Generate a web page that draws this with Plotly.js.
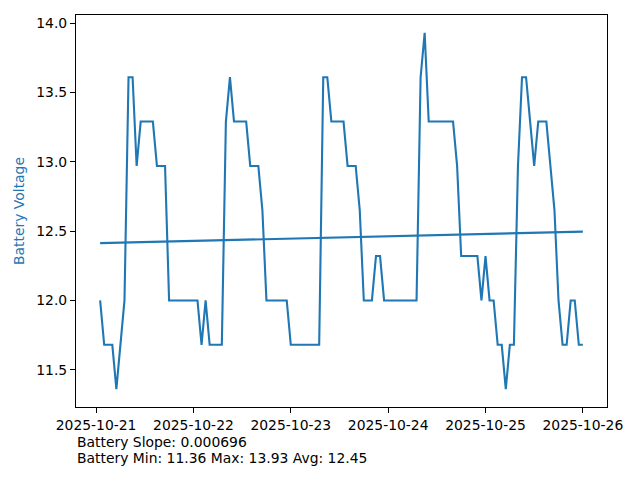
<!DOCTYPE html>
<html>
<head>
<meta charset="utf-8">
<script src="https://cdn.plot.ly/plotly-3.0.1.min.js"></script>
<style>html,body{margin:0;padding:0;background:#fff}</style>
</head>
<body>
<div id="chart" style="width:640px;height:480px"></div>
<script>
// Hourly samples starting 2025-10-21 01:00
const startTime = "2025-10-21T01:00:00";
const stepHours = 1;
const voltage = [
  12.00, 11.68, 11.68, 11.68, 11.36, 11.68, 12.00, 13.61, 13.61, 12.97,
  13.29, 13.29, 13.29, 13.29, 12.97, 12.97, 12.97, 12.00, 12.00, 12.00,
  12.00, 12.00, 12.00, 12.00, 12.00, 11.68, 12.00, 11.68, 11.68, 11.68,
  11.68, 13.29, 13.61, 13.29, 13.29, 13.29, 13.29, 12.97, 12.97, 12.97,
  12.65, 12.00, 12.00, 12.00, 12.00, 12.00, 12.00, 11.68, 11.68, 11.68,
  11.68, 11.68, 11.68, 11.68, 11.68, 13.61, 13.61, 13.29, 13.29, 13.29,
  13.29, 12.97, 12.97, 12.97, 12.65, 12.00, 12.00, 12.00, 12.32, 12.32,
  12.00, 12.00, 12.00, 12.00, 12.00, 12.00, 12.00, 12.00, 12.00, 13.61,
  13.93, 13.29, 13.29, 13.29, 13.29, 13.29, 13.29, 13.29, 12.97, 12.32,
  12.32, 12.32, 12.32, 12.32, 12.00, 12.32, 12.00, 12.00, 11.68, 11.68,
  11.36, 11.68, 11.68, 12.97, 13.61, 13.61, 13.29, 12.97, 13.29, 13.29,
  13.29, 12.97, 12.65, 12.00, 11.68, 11.68, 12.00, 12.00, 11.68, 11.68
];
const xTickVals = ["2025-10-21", "2025-10-22", "2025-10-23", "2025-10-24", "2025-10-25", "2025-10-26"];
const statLines = [
  "Battery Slope: 0.000696",
  "Battery Min: 11.36 Max: 13.93 Avg: 12.45"
];

function fmt(d){
  const p = n => String(n).padStart(2,"0");
  return d.getUTCFullYear()+"-"+p(d.getUTCMonth()+1)+"-"+p(d.getUTCDate())+" "+p(d.getUTCHours())+":"+p(d.getUTCMinutes())+":"+p(d.getUTCSeconds());
}
const t0 = new Date(startTime + "Z").getTime();
const times = voltage.map((_, i) => fmt(new Date(t0 + i*stepHours*3600000)));

// least-squares trend over sample index
const n = voltage.length;
let sx=0, sy=0, sxx=0, sxy=0;
voltage.forEach((v,i)=>{sx+=i; sy+=v; sxx+=i*i; sxy+=i*v;});
const slope = (n*sxy - sx*sy)/(n*sxx - sx*sx);
const intercept = (sy - slope*sx)/n;
const trend = voltage.map((_,i)=>intercept + slope*i);

const blue = "#1f77b4";
const font = {family: "DejaVu Sans, sans-serif", size: 13.9, color: "#000"};

// axis ranges with 5% margins (matplotlib style)
const tStart = t0, tEnd = t0 + (n-1)*stepHours*3600000;
const span = tEnd - tStart;
const xr = [fmt(new Date(tStart - 0.05*span)), fmt(new Date(tEnd + 0.05*span))];
const vmin = Math.min(...voltage), vmax = Math.max(...voltage);
const vr = vmax - vmin;
const yr = [vmin - 0.05*vr, vmax + 0.05*vr];

const traces = [
  {x: times, y: voltage, type: "scatter", mode: "lines", line: {color: blue, width: 2.1}, hoverinfo: "skip"},
  {x: times, y: trend, type: "scatter", mode: "lines", line: {color: blue, width: 2.1}, hoverinfo: "skip"}
];

const layout = {
  width: 640, height: 480, autosize: false,
  margin: {l: 75.5, r: 33, t: 15, b: 73, pad: 0},
  paper_bgcolor: "#fff", plot_bgcolor: "#fff",
  showlegend: false,
  font: font,
  xaxis: {
    type: "date", range: xr,
    tickmode: "array", tickvals: xTickVals, ticktext: xTickVals,
    ticks: "outside", ticklen: 4.9, tickwidth: 1.1, tickcolor: "#000",
    showline: true, linecolor: "#000", linewidth: 1.1, mirror: true,
    showgrid: false, zeroline: false, tickfont: font
  },
  yaxis: {
    range: yr,
    tickmode: "array", tickvals: [11.5, 12.0, 12.5, 13.0, 13.5, 14.0], ticktext: ["11.5","12.0","12.5","13.0","13.5","14.0"],
    ticks: "outside", ticklen: 4.9, tickwidth: 1.1, tickcolor: "#000",
    showline: true, linecolor: "#000", linewidth: 1.1, mirror: true,
    showgrid: false, zeroline: false, tickfont: font,
    title: {text: "Battery Voltage", font: {family: "DejaVu Sans, sans-serif", size: 13.9, color: blue}, standoff: 8}
  },
  annotations: statLines.map((s, k) => ({
    text: s, xref: "paper", yref: "paper", x: -0.001, y: -(35 + 15.5*k)/392,
    xanchor: "left", yanchor: "middle", showarrow: false, align: "left",
    font: font
  }))
};

Plotly.newPlot("chart", traces, layout, {staticPlot: true, displayModeBar: false});
</script>
</body>
</html>
